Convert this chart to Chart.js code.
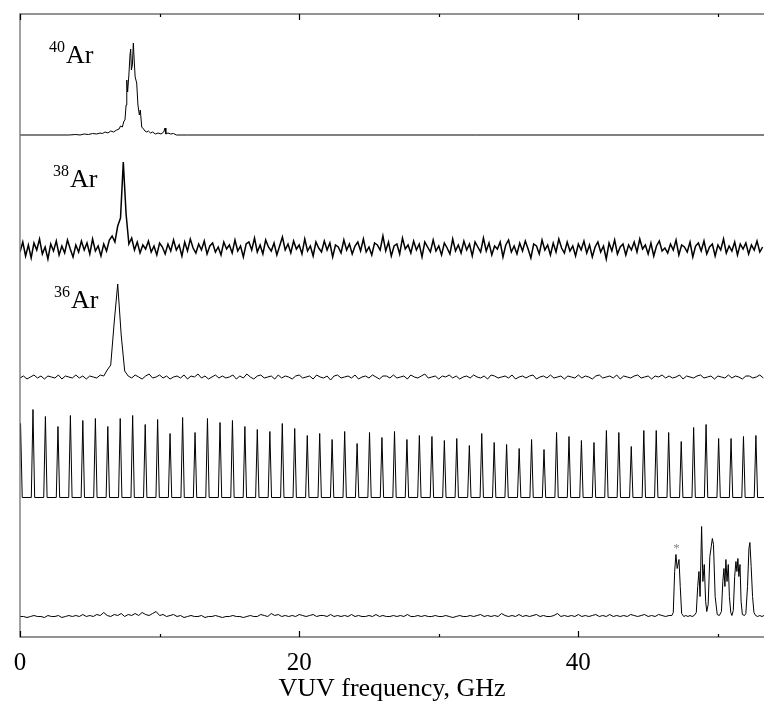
<!DOCTYPE html>
<html>
<head>
<meta charset="utf-8">
<script src="https://cdn.jsdelivr.net/npm/chart.js@4.4.1/dist/chart.umd.min.js"></script>
<style>
  html, body { margin: 0; padding: 0; background: #fff; }
  canvas { display: block; }
</style>
</head>
<body>
<canvas id="spectrum" width="764" height="710"></canvas>
<script>
// scan range, GHz
const FREQ_MAX = 53.3;
const tickValues = [0, 10, 20, 30, 40, 50];

// 40Ar trace, (frequency GHz, signal) pairs
const ar40Freq = [0, 3.5, 4.0, 4.3, 4.6, 4.9, 5.2, 5.5, 5.73, 5.9,
  6.1, 6.3, 6.5, 6.7, 6.93, 7.1, 7.2, 7.33, 7.45, 7.52,
  7.6, 7.65, 7.71, 7.8, 7.88, 7.93, 7.98, 8.05, 8.12, 8.18,
  8.25, 8.36, 8.45, 8.55, 8.62, 8.72, 8.85, 8.95, 9.08, 9.2,
  9.35, 9.5, 9.7, 9.9, 10.1, 10.3, 10.39, 10.45, 10.6, 10.8,
  11.0, 11.2, 12.0, 53.3];
const ar40Signal = [0, 0, 0.5, 0, 1, 0.5, 1.5, 1, 2, 1.5,
  3, 2, 4, 3, 5, 6, 9, 8, 14, 15,
  30, 55, 43, 60, 80, 86, 65, 70, 92, 75,
  58, 52, 30, 20, 25, 8, 6, 4, 3, 4,
  2, 3, 1, 2, 1, 3, 7, 1, 2, 1,
  1.5, 0, 0, 0];

// 38Ar trace, sampled every 0.2 GHz from 0
const ar38Step = 0.2;
const ar38Signal = [
  -4, 6, -8, 3, -10, 5, -2, 9, -6, 1, -11, 4, -3, 7, -7, 2, -5, 8, -1, -9,
  3, -4, 7, -2, 5, -6, 9, -3, 2, -8, 4, -3, 8, 12, 6, 22, 30, 86, 34, 4,
  10, -2, 6, -5, 3, -1, 7, -4, 2, -7, 5, 1, -6, 4, -3, 8, -2, 3, -8, 6,
  -3, 9, 0, -5, 4, -2, 7, -6, 2, 5, -4, 1, -7, 6, -1, 3, -5, 8, -3, 2,
  -9, 4, 6, -2, 10, -4, 3, -6, 8, 1, -3, 5, -7, 2, 11, -2, 4, -5, 7, -1,
  3, -6, 9, -3, 2, -8, 6, 0, -4, 7, -2, 5, -9, 3, 1, -5, 8, -2, 4, -6,
  2, 6, -3, 9, -4, 1, -7, 5, 3, -2, 12, -3, 6, -8, 2, 4, -6, 10, -1, 3,
  -5, 7, -2, 4, -9, 6, 1, -4, 8, -3, 2, -7, 5, 0, -6, 9, -3, 3, -5, 7,
  -2, 4, -8, 6, 1, -4, 10, -3, 5, -7, 2, -1, 6, -9, 3, 8, -4, 2, -6, 5,
  -3, 7, -1, -10, 4, 2, -6, 8, -2, 3, -7, 5, -4, 9, 0, -5, 6, -3, 2, -8,
  4, -2, 7, -5, 3, -9, 1, 6, -4, 2, -11, 5, -3, 8, -6, 1, 4, -7, 3, -2,
  6, -4, 9, -1, 3, -6, 5, -8, 2, 7, -3, 0, -5, 4, -2, 8, -7, 3, 1, -4,
  6, -9, 2, 5, -3, 7, -6, 1, 4, -8, 3, -2, 9, -5, 2, -3, 6, -7, 4, -1,
  5, -6, 3, -2, 7, -4, 1];

// 36Ar trace, sampled every 0.25 GHz from 0
const ar36Step = 0.25;
const ar36Signal = [
  -1, 1, -2, 0, 2, -1, 1, -2, 1, 0, -1, 2, -2, 1, 0, -1, 2, -1, 1, -2,
  1, 0, -1, 2, 1, 7, 12, 55, 93, 42, 6, 1, -1, 2, 0, -2, 1, 3, -1, 0,
  2, -1, 1, -2, 0, 1, -1, 2, -2, 1, 0, 3, -1, 1, -2, 0, 2, -1, 1, -1,
  0, 2, -2, 1, -1, 3, 0, -2, 1, 2, -1, 0, 1, -2, 2, -1, 1, 0, -2, 1,
  2, -1, 0, 1, -2, 2, 0, -1, 1, -3, 1, 2, -1, 0, 1, -1, 2, -2, 0, 1,
  -1, 2, 0, -2, 1, 1, -1, 2, -1, 0, 1, -2, 2, 0, -1, 1, 3, -1, 0, 1,
  -2, 1, 0, 2, -1, 1, -2, 0, 1, -1, 2, 0, -1, 1, -2, 2, 1, -1, 0, 1,
  -1, 2, -2, 0, 1, -1, 1, 2, -2, 0, 1, -1, 2, -1, 0, 1, -2, 1, 0, -1,
  2, -1, 1, 0, -2, 1, 2, -1, 0, 1, -1, 2, -2, 1, 0, -1, 1, 2, -1, 0,
  1, -2, 1, 0, 2, -1, 1, -1, 0, 2, -2, 1, 0, -1, 1, 2, -1, 0, 1, -2,
  1, 0, -1, 2, -1, 1, 0, -2, 1, 1, -1, 0, 2, -1];

// etalon fringes: centre (GHz) and height
const etalonPeaks = [0.04, 0.93, 1.82, 2.72, 3.61, 4.50, 5.40, 6.29, 7.18, 8.07,
  8.97, 9.86, 10.75, 11.65, 12.54, 13.43, 14.33, 15.22, 16.11, 17.00,
  17.90, 18.79, 19.68, 20.58, 21.47, 22.36, 23.26, 24.15, 25.04, 25.93,
  26.83, 27.72, 28.61, 29.51, 30.40, 31.29, 32.19, 33.08, 33.97, 34.86,
  35.76, 36.65, 37.54, 38.44, 39.33, 40.22, 41.12, 42.01, 42.90, 43.79,
  44.69, 45.58, 46.47, 47.37, 48.26, 49.15, 50.05, 50.94, 51.83, 52.72];
const etalonHeights = [74, 88, 81, 71, 82, 77, 79, 71, 79, 82,
  73, 78, 64, 80, 65, 79, 75, 77, 71, 68,
  66, 74, 69, 62, 64, 58, 66, 54, 65, 60,
  66, 58, 62, 61, 57, 59, 52, 64, 55, 53,
  49, 58, 48, 65, 61, 57, 55, 67, 65, 51,
  67, 67, 65, 56, 70, 73, 59, 59, 61, 62];

// bottom reference spectrum: sampled every 0.25 GHz up to 46.5 ...
const refStep = 0.25;
const refSignal = [
  0, 0, -1, 0, 1, 0, 0, -1, 1, 0, 0, 1, -1, 0, 1, 0, 1, 0, 2, 0,
  1, 0, 2, 1, 4, 1, 0, 2, 1, 3, 0, 2, 1, 3, 1, 4, 2, 1, 3, 5,
  1, 2, 0, 1, 2, 0, 1, -1, 0, 1, 0, 0, 1, -1, 0, 0, 1, 0, -1, 0,
  0, 1, 0, 0, -1, 0, 1, 0, 0, 2, 1, 0, 3, 1, 2, 0, 1, 0, 1, 0,
  2, 1, 0, 1, 2, 0, 1, 1, 0, 2, 0, 1, 0, 1, 0, 2, 0, 1, 0, 0,
  1, 0, 2, 0, 1, 0, 0, 1, 0, 1, 0, 2, 0, 0, 1, 0, 1, 0, 0, 1,
  0, 0, 1, 0, -1, 0, 1, 0, 0, 1, 0, 1, 2, 0, 1, 0, 1, 0, 3, 1,
  0, 1, 0, 2, 0, 1, 0, 1, 2, 0, 1, 0, 0, 1, 3, 0, 1, 0, 1, 0,
  2, 0, 1, 0, 1, 2, 0, 1, 0, 2, 0, 1, 0, 1, 0, 2, 1, 0, 1, 2,
  0, 1, 0, 2, 1, 0, 1];
// ... then the resolved lines above 46.5 GHz
const refPeakFreq = [46.7, 46.8, 46.9, 46.99, 47.08, 47.21, 47.3, 47.4, 47.55, 47.7,
  47.85, 48.0, 48.15, 48.3, 48.45, 48.55, 48.64, 48.72, 48.83, 48.92,
  49.02, 49.12, 49.2, 49.3, 49.42, 49.52, 49.6, 49.68, 49.8, 49.95,
  50.1, 50.25, 50.35, 50.43, 50.5, 50.57, 50.65, 50.74, 50.82, 50.92,
  51.0, 51.1, 51.2, 51.29, 51.36, 51.43, 51.5, 51.58, 51.66, 51.75,
  51.9, 52.0, 52.12, 52.22, 52.29, 52.38, 52.48, 52.58, 52.7, 52.85,
  53.0, 53.15, 53.3];
const refPeakSignal = [1, 4, 45, 62, 48, 57, 30, 3, 0, 1,
  0, 1, 0, 1, 4, 30, 45, 20, 90, 35,
  52, 15, 5, 12, 60, 70, 78, 72, 20, 2,
  1, 5, 35, 48, 30, 57, 35, 52, 20, 4,
  1, 6, 40, 55, 45, 58, 40, 52, 15, 2,
  1, 3, 30, 68, 74, 50, 20, 4, 1, 0,
  1, 0, 1];

const isotopes = ['40', '38', '36'];

// vertical placement of each trace (y scale runs 0..623)
const offsets = { ar40: 502, ar38: 389, ar36: 260, etalon: 139.5, ref: 20.5 };
const labelPos = [
  { freq: 2.08, level: 574 },
  { freq: 2.36, level: 450 },
  { freq: 2.44, level: 329 }
];
const FRINGE_HALF = 0.12;

function pairs(xs, ys, off) {
  return xs.map((x, i) => ({ x: x, y: ys[i] + off }));
}

function sampled(step, ys, off) {
  return ys.map((y, i) => ({ x: +(i * step).toFixed(3), y: y + off }));
}

function fringes(centres, heights, off) {
  const pts = [];
  centres.forEach((c, i) => {
    pts.push({ x: c - FRINGE_HALF, y: off });
    pts.push({ x: c, y: heights[i] + off });
    pts.push({ x: c + FRINGE_HALF, y: off });
  });
  pts.push({ x: FREQ_MAX, y: off });
  return pts;
}

function trace(data, width) {
  return {
    data: data,
    borderColor: '#000',
    borderWidth: width,
    pointRadius: 0,
    tension: 0,
    fill: false
  };
}

const refData = sampled(refStep, refSignal, offsets.ref)
  .concat(pairs(refPeakFreq, refPeakSignal, offsets.ref));

const framePlugin = {
  id: 'frame',
  afterDraw(chart) {
    const { ctx, chartArea: a, scales } = chart;
    const x = scales.x, y = scales.y;
    ctx.save();

    ctx.strokeStyle = '#707070';
    ctx.lineWidth = 1.3;
    ctx.beginPath();
    ctx.moveTo(a.right, a.top);
    ctx.lineTo(a.left, a.top);
    ctx.lineTo(a.left, a.bottom);
    ctx.lineTo(a.right, a.bottom);
    ctx.stroke();

    // inward ticks on top and bottom
    ctx.strokeStyle = '#000';
    ctx.lineWidth = 1.2;
    tickValues.forEach(v => {
      const px = Math.round(x.getPixelForValue(v)) + 0.5;
      const len = v % 20 === 0 ? 6 : 3;
      ctx.beginPath();
      ctx.moveTo(px, a.bottom);
      ctx.lineTo(px, a.bottom - len);
      ctx.moveTo(px, a.top);
      ctx.lineTo(px, a.top + len);
      ctx.stroke();
    });

    // isotope labels
    ctx.fillStyle = '#000';
    ctx.textBaseline = 'alphabetic';
    ctx.textAlign = 'left';
    isotopes.forEach((mass, i) => {
      const px = x.getPixelForValue(labelPos[i].freq);
      const py = y.getPixelForValue(labelPos[i].level);
      ctx.font = '16px "Liberation Serif"';
      ctx.fillText(mass, px, py - 11);
      const w = ctx.measureText(mass).width;
      ctx.font = '26px "Liberation Serif"';
      ctx.fillText('Ar', px + w + 1, py);
    });

    // marker over the first line of the bottom spectrum
    ctx.fillStyle = '#888';
    ctx.font = '13px "Liberation Serif"';
    ctx.textAlign = 'center';
    ctx.fillText('*', x.getPixelForValue(47.04), y.getPixelForValue(85));

    ctx.restore();
  }
};

new Chart(document.getElementById('spectrum'), {
  type: 'line',
  data: {
    datasets: [
      trace(pairs(ar40Freq, ar40Signal, offsets.ar40), 1),
      trace(sampled(ar38Step, ar38Signal, offsets.ar38), 1.5),
      trace(sampled(ar36Step, ar36Signal, offsets.ar36), 1),
      trace(fringes(etalonPeaks, etalonHeights, offsets.etalon), 1),
      trace(refData, 1)
    ]
  },
  options: {
    responsive: false,
    animation: false,
    events: [],
    layout: { padding: { left: 20, top: 14, right: 0, bottom: 0 } },
    plugins: {
      legend: { display: false },
      tooltip: { enabled: false }
    },
    scales: {
      x: {
        type: 'linear',
        min: 0,
        max: FREQ_MAX,
        grid: { display: false, drawTicks: false },
        border: { display: false },
        afterFit: scale => {
          scale.paddingLeft = 0;
          scale.paddingRight = 0;
        },
        ticks: {
          stepSize: 10,
          padding: 11,
          color: '#000',
          maxRotation: 0,
          autoSkip: false,
          font: { family: '"Liberation Serif"', size: 25, lineHeight: 1.2 },
          callback: v => (v % 20 === 0 ? String(v) : '')
        },
        title: {
          display: true,
          text: 'VUV frequency, GHz',
          color: '#000',
          padding: { top: -13, bottom: 8 },
          font: { family: '"Liberation Serif"', size: 26, lineHeight: 1 }
        }
      },
      y: {
        display: false,
        min: 0,
        max: 623
      }
    }
  },
  plugins: [framePlugin]
});
</script>
</body>
</html>
